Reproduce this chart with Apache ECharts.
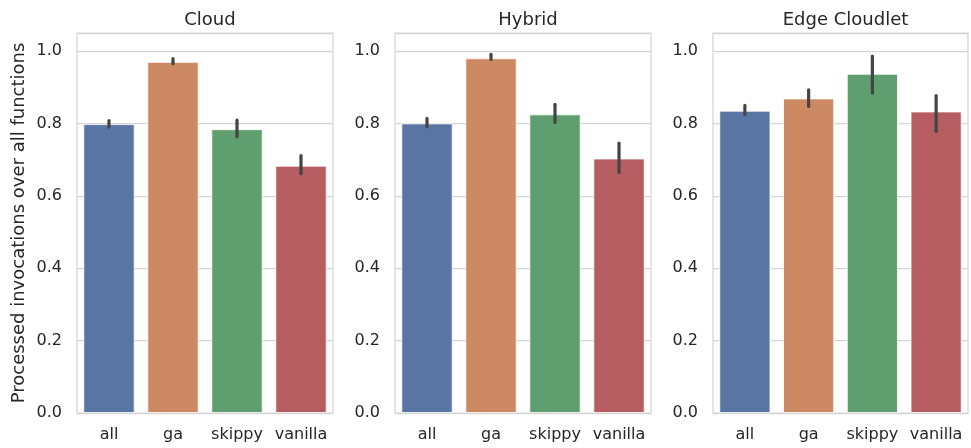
<!DOCTYPE html>
<html><head><meta charset="utf-8">
<script src="https://cdn.jsdelivr.net/npm/echarts@6/dist/echarts.min.js"></script>
<style>html,body{margin:0;padding:0;background:#fff}#c{width:971px;height:448px}</style>
</head><body><div id="c"></div>
<script>
const categories = ['all', 'ga', 'skippy', 'vanilla'];
const panelTitles = ['Cloud', 'Hybrid', 'Edge Cloudlet'];
const yTicks = [0.0, 0.2, 0.4, 0.6, 0.8, 1.0];
const yLabel = 'Processed invocations over all functions';
const cloudMean = [0.798, 0.970, 0.784, 0.683];
const cloudLow  = [0.790, 0.965, 0.763, 0.661];
const cloudHigh = [0.808, 0.979, 0.809, 0.711];
const hybridMean = [0.800, 0.980, 0.825, 0.703];
const hybridLow  = [0.791, 0.977, 0.803, 0.665];
const hybridHigh = [0.814, 0.991, 0.853, 0.746];
const edgeMean = [0.835, 0.869, 0.937, 0.833];
const edgeLow  = [0.825, 0.847, 0.884, 0.778];
const edgeHigh = [0.850, 0.893, 0.986, 0.877];
const colors = ['#5975a4', '#cc8963', '#5f9e6e', '#b55d60'];

const panels = [
  {mean: cloudMean, low: cloudLow, high: cloudHigh},
  {mean: hybridMean, low: hybridLow, high: hybridHigh},
  {mean: edgeMean, low: edgeLow, high: edgeHigh}
];
const lefts = [77, 395, 713];
const widths = [256, 256, 255];
const font = 'DejaVu Sans';
const txt = '#262626';

const chart = echarts.init(document.getElementById('c'), null, {renderer: 'canvas'});
const option = {
  animation: false,
  backgroundColor: '#fff',
  title: panelTitles.map((t, i) => ({
    text: t, left: lefts[i] + widths[i] / 2, top: 6, textAlign: 'center',
    textStyle: {fontFamily: font, fontSize: 18, fontWeight: 'normal', color: txt}
  })),
  grid: lefts.map((l, i) => ({
    left: l, width: widths[i], top: 33, height: 380, show: true,
    borderColor: '#d5d5d5', borderWidth: 1.25, backgroundColor: 'transparent'
  })),
  xAxis: panels.map((p, i) => ({
    type: 'category', gridIndex: i, data: categories,
    axisLine: {show: false}, axisTick: {show: false},
    axisLabel: {fontFamily: font, fontSize: 16, color: txt, margin: 14,
      interval: 0, hideOverlap: false},
    splitLine: {show: false}
  })),
  yAxis: panels.map((p, i) => ({
    type: 'value', gridIndex: i, min: 0, max: 1.05, interval: 0.2,
    name: i === 0 ? yLabel : '', nameLocation: 'middle', nameGap: 49,
    nameTextStyle: {fontFamily: font, fontSize: 18, color: txt},
    axisLine: {show: false}, axisTick: {show: false},
    axisLabel: {fontFamily: font, fontSize: 16, color: txt, margin: 15,
      showMaxLabel: false,
      formatter: v => yTicks.some(t => Math.abs(t - v) < 1e-6) ? v.toFixed(1) : ''},
    splitLine: {show: true, lineStyle: {color: '#d5d5d5', width: 1.25}}
  })),
  series: []
};
panels.forEach((p, i) => {
  option.series.push({
    type: 'bar', xAxisIndex: i, yAxisIndex: i, barCategoryGap: '20%',
    data: p.mean.map((v, k) => ({value: v, itemStyle: {color: colors[k]}})),
    itemStyle: {borderColor: '#ffffff', borderWidth: 0.8}
  });
  option.series.push({
    type: 'custom', xAxisIndex: i, yAxisIndex: i, z: 10,
    data: categories.map((c, k) => [k, p.low[k], p.high[k]]),
    renderItem: (params, api) => {
      const a = api.coord([api.value(0), api.value(1)]);
      const b = api.coord([api.value(0), api.value(2)]);
      return {type: 'line', shape: {x1: a[0], y1: a[1], x2: b[0], y2: b[1]},
        style: {stroke: '#444444', lineWidth: 3.2, lineCap: 'round'}};
    }
  });
});
chart.setOption(option);
</script></body></html>
